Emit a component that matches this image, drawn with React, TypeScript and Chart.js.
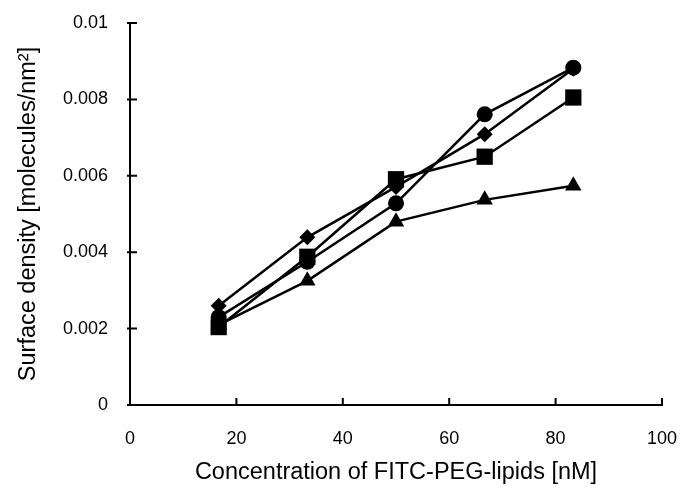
import React, { useEffect, useRef } from "react";
import { Chart, registerables } from "chart.js";

Chart.register(...registerables);

const concentrations = [16.67, 33.33, 50, 66.67, 83.33];
const diamondSeries = [0.0026, 0.00439, 0.00571, 0.00709, 0.0088];
const circleSeries = [0.0023, 0.00375, 0.00528, 0.00761, 0.00883];
const squareSeries = [0.00204, 0.00388, 0.00591, 0.0065, 0.00805];
const triangleSeries = [0.0021, 0.00325, 0.0048, 0.00537, 0.00574];
const xTicks = [0, 20, 40, 60, 80, 100];
const yTicks = [0, 0.002, 0.004, 0.006, 0.008, 0.01];
const yTickLabels = ["0", "0.002", "0.004", "0.006", "0.008", "0.01"];

const FONT = "'Liberation Sans', Arial, sans-serif";

const tickPlugin = {
  id: "customTicks",
  afterDraw(chart: any) {
    const ctx = chart.ctx;
    const xs = chart.scales.x;
    const ys = chart.scales.y;
    const area = chart.chartArea;
    ctx.save();
    ctx.strokeStyle = "#000";
    ctx.lineWidth = 2;
    ctx.beginPath();
    for (const v of xTicks) {
      const px = xs.getPixelForValue(v);
      ctx.moveTo(px, area.bottom);
      ctx.lineTo(px, area.bottom - 7);
    }
    for (const v of yTicks) {
      const py = ys.getPixelForValue(v);
      ctx.moveTo(area.left - 3, py);
      ctx.lineTo(area.left + 7, py);
    }
    ctx.stroke();
    ctx.restore();
  },
};

function makeSet(label: string, data: number[], style: string, radius: number) {
  return {
    label,
    data: concentrations.map((x, i) => ({ x, y: data[i] })),
    borderColor: "#000",
    backgroundColor: "#000",
    borderWidth: 2.5,
    pointStyle: style,
    pointRadius: radius,
    pointBackgroundColor: "#000",
    pointBorderColor: "#000",
    pointBorderWidth: 0,
    showLine: true,
    tension: 0,
  };
}

export default function App() {
  const ref = useRef<HTMLCanvasElement>(null);
  useEffect(() => {
    document.body.style.margin = "0";
    const chart = new Chart(ref.current!, {
      type: "scatter",
      data: {
        datasets: [
          makeSet("diamond", diamondSeries, "rectRot", 8),
          makeSet("circle", circleSeries, "circle", 8),
          makeSet("square", squareSeries, "rect", 11.5),
          makeSet("triangle", triangleSeries, "triangle", 9.5),
        ],
      },
      options: {
        responsive: false,
        animation: false,
        layout: { padding: { top: 23, right: 24, left: 0, bottom: 0 } },
        plugins: { legend: { display: false }, tooltip: { enabled: false } },
        scales: {
          x: {
            type: "linear",
            min: 0,
            max: 100,
            afterFit: (s: any) => {
              s.height = 92;
              s.paddingLeft = 0;
              s.paddingRight = 0;
            },
            afterBuildTicks: (s: any) => {
              s.ticks = xTicks.map((v) => ({ value: v }));
            },
            grid: { display: false },
            border: { display: true, color: "#000", width: 2 },
            ticks: {
              color: "#000",
              padding: 15,
              font: { family: FONT, size: 18 },
              maxRotation: 0,
            },
            title: {
              display: true,
              text: "Concentration of FITC-PEG-lipids [nM]",
              color: "#000",
              font: { family: FONT, size: 23.5 },
              padding: { top: 0, bottom: 10 },
            },
          },
          y: {
            type: "linear",
            min: 0,
            max: 0.01,
            afterFit: (s: any) => {
              s.width = 130;
              s.paddingTop = 0;
              s.paddingBottom = 0;
            },
            afterBuildTicks: (s: any) => {
              s.ticks = yTicks.map((v) => ({ value: v }));
            },
            grid: { display: false },
            border: { display: true, color: "#000", width: 2 },
            ticks: {
              color: "#000",
              padding: 14,
              font: { family: FONT, size: 18 },
              callback: (v: any) => {
                const i = yTicks.findIndex((t) => Math.abs(t - Number(v)) < 1e-9);
                return i >= 0 ? yTickLabels[i] : "";
              },
            },
            title: {
              display: true,
              text: "Surface density [molecules/nm²]",
              color: "#000",
              font: { family: FONT, size: 23.5 },
              padding: { top: 14, bottom: 0 },
            },
          },
        },
      },
      plugins: [tickPlugin],
    });
    return () => chart.destroy();
  }, []);
  return (
    <div style={{ position: "absolute", left: 0, top: 0, width: 686, height: 497, background: "#fff" }}>
      <canvas ref={ref} width={686} height={497} style={{ width: 686, height: 497 }} />
    </div>
  );
}
